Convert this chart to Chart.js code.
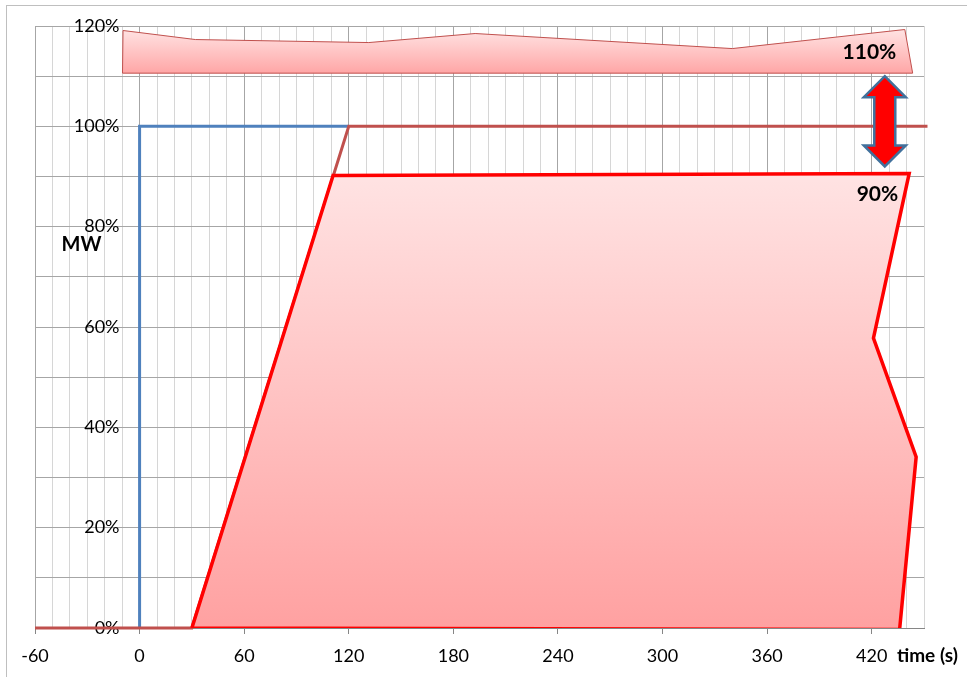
<!DOCTYPE html>
<html><head><meta charset="utf-8">
<script src="https://cdn.jsdelivr.net/npm/chart.js@4.4.1/dist/chart.umd.min.js"></script>
<style>html,body{margin:0;padding:0;background:#fff;} canvas{display:block;}</style>
</head><body>
<canvas id="c" width="967" height="677"></canvas>
<script>
// ---- data ----
const xLabelValues = [-60, 0, 60, 120, 180, 240, 300, 360, 420];
const yLabelValues = [0, 20, 40, 60, 80, 100, 120];
const signalX = [0, 0, 120];
const signalY = [0, 100, 100];
const setpointX = [-60, 30, 120, 452];
const setpointY = [0, 0, 100, 100];
const lowerBandX = [30, 111, 441.5, 421, 445.5, 436, 30];
const lowerBandY = [0, 90.2, 90.6, 57.8, 34.1, -0.3, 0];
const upperBandX = [-9.5, 32, 131.5, 192.5, 340, 439, 443.5, -9.8, -9.5];
const upperBandY = [119.1, 117.3, 116.7, 118.5, 115.5, 119.3, 110.6, 110.6, 119.1];
const arrowX = [427.5];
const arrowY = [110, 92];
const bandLabels = ['110%', '90%'];
const bandLabelX = [418.7, 423.3];
const bandLabelY = [114.7, 86.5];
const yTitle = 'MW';
const yTitleX = [-33.3];
const yTitleY = [76.5];
const xTitle = 'time (s)';
const xTitleX = [434.5];
const yLabelAt = -11.5;   // x value where the y tick labels end

const FONT = 'Lato, "Open Sans", "Liberation Sans", sans-serif';
const pts = (xs, ys) => xs.map((x, i) => ({x: x, y: ys[i]}));

function vGrad(chart, topVal, botVal, c1, c2) {
  const {ctx, chartArea, scales} = chart;
  if (!chartArea) return c2;
  const y0 = scales.y.getPixelForValue(topVal);
  const y1 = scales.y.getPixelForValue(botVal);
  const g = ctx.createLinearGradient(0, y0, 0, y1);
  g.addColorStop(0, c1);
  g.addColorStop(1, c2);
  return g;
}

const decor = {
  id: 'decor',
  beforeDraw(chart) {
    const ctx = chart.ctx;
    ctx.save();
    ctx.strokeStyle = '#bfbfbf';
    ctx.lineWidth = 1;
    ctx.strokeRect(6.5, 5.5, 975, 690);
    ctx.restore();
  },
  afterDatasetsDraw(chart) {
    const {ctx, scales} = chart;
    const xs = scales.x, ys = scales.y;
    // double arrow
    const cx = xs.getPixelForValue(arrowX[0]);
    const yt = ys.getPixelForValue(arrowY[0]);
    const yb = ys.getPixelForValue(arrowY[1]);
    const hw = 21, sw = 10.5, hl = 21;
    ctx.save();
    ctx.beginPath();
    ctx.moveTo(cx, yt);
    ctx.lineTo(cx + hw, yt + hl);
    ctx.lineTo(cx + sw, yt + hl);
    ctx.lineTo(cx + sw, yb - hl);
    ctx.lineTo(cx + hw, yb - hl);
    ctx.lineTo(cx, yb);
    ctx.lineTo(cx - hw, yb - hl);
    ctx.lineTo(cx - sw, yb - hl);
    ctx.lineTo(cx - sw, yt + hl);
    ctx.lineTo(cx - hw, yt + hl);
    ctx.closePath();
    ctx.fillStyle = '#ff0000';
    ctx.fill();
    ctx.lineWidth = 2.5;
    ctx.lineJoin = 'miter';
    ctx.strokeStyle = '#41719c';
    ctx.stroke();
    // band labels
    ctx.fillStyle = '#000';
    ctx.font = 'bold 21px ' + FONT;
    ctx.textAlign = 'center';
    ctx.textBaseline = 'middle';
    bandLabels.forEach((t, i) => {
      ctx.fillText(t, xs.getPixelForValue(bandLabelX[i]), ys.getPixelForValue(bandLabelY[i]));
    });
    // axis titles
    ctx.font = 'bold 20px ' + FONT;
    ctx.fillText(yTitle, xs.getPixelForValue(yTitleX[0]), ys.getPixelForValue(yTitleY[0]));
    ctx.textAlign = 'left';
    ctx.font = 'bold 19px ' + FONT;
    ctx.fillText(xTitle, xs.getPixelForValue(xTitleX[0]), chart.chartArea.bottom + 28);
    ctx.restore();
  }
};

new Chart(document.getElementById('c'), {
  type: 'scatter',
  data: {
    datasets: [
      {
        data: pts(upperBandX, upperBandY),
        showLine: true, pointRadius: 0, tension: 0,
        borderColor: '#c0504d', borderWidth: 1, borderJoinStyle: 'miter',
        backgroundColor: (c) => vGrad(c.chart, 119.3, 110.6, '#ffe3e3', '#ffa6a6'),
        fill: 'shape'
      },
      {
        data: pts(lowerBandX, lowerBandY),
        showLine: true, pointRadius: 0, tension: 0,
        borderColor: '#ff0000', borderWidth: 3.5, borderJoinStyle: 'miter',
        backgroundColor: (c) => vGrad(c.chart, 90.6, 0, '#ffe3e3', '#ffa1a1'),
        fill: 'shape'
      },
      {
        data: pts(setpointX, setpointY),
        showLine: true, pointRadius: 0, tension: 0,
        borderColor: '#c0504d', borderWidth: 3, fill: false, clip: false
      },
      {
        data: pts(signalX, signalY),
        showLine: true, pointRadius: 0, tension: 0,
        borderColor: '#4f81bd', borderWidth: 3, fill: false
      }
    ]
  },
  options: {
    responsive: false,
    animation: false,
    devicePixelRatio: 1,
    layout: {padding: {left: 35, right: 43, top: 26, bottom: 0}},
    plugins: {legend: {display: false}, tooltip: {enabled: false}},
    scales: {
      x: {
        type: 'linear', position: 'bottom', min: -60, max: 450,
        afterFit(s) { s.height = 49; },
        ticks: {
          stepSize: 10, autoSkip: false, maxRotation: 0, padding: 11,
          color: '#000', font: {family: FONT, size: 18},
          callback: (v) => xLabelValues.includes(v) ? String(v) : ''
        },
        grid: {
          color: (c) => (c.tick && c.tick.value % 60 === 0) ? '#a6a6a6' : '#d6d6d6',
          tickLength: 6,
          tickColor: (c) => (c.tick && xLabelValues.includes(c.tick.value)) ? '#868686' : 'rgba(0,0,0,0)'
        },
        border: {display: true, color: '#868686'}
      },
      y: {
        type: 'linear', position: {x: yLabelAt}, min: 0, max: 120,
        ticks: {
          stepSize: 10, autoSkip: false, padding: 0,
          color: '#000', font: {family: FONT, size: 18},
          callback: (v) => yLabelValues.includes(v) ? v + '%' : ''
        },
        grid: {
          color: '#a6a6a6',
          drawTicks: false
        },
        border: {display: false}
      }
    }
  },
  plugins: [decor]
});
</script>
</body></html>
